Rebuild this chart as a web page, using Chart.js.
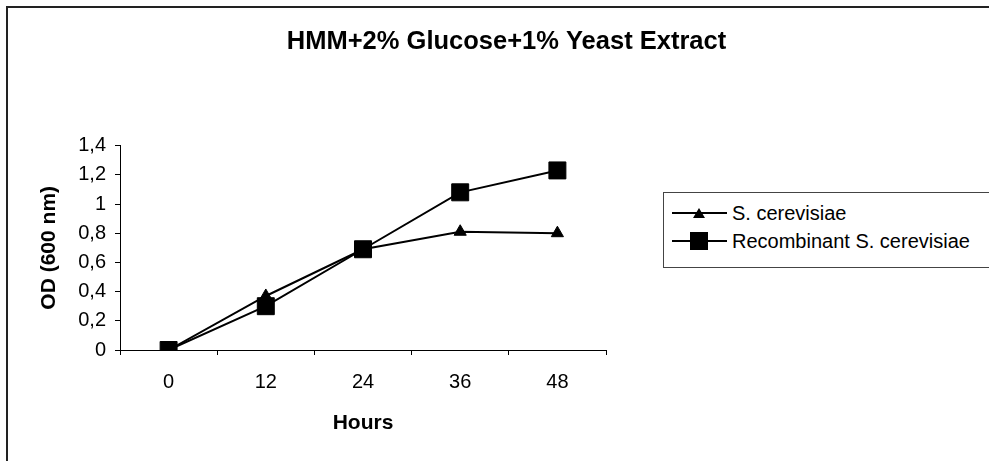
<!DOCTYPE html>
<html>
<head>
<meta charset="utf-8">
<script src="https://cdn.jsdelivr.net/npm/chart.js@4.4.1/dist/chart.umd.min.js"></script>
<style>
  html, body { margin: 0; padding: 0; background: #fff; overflow: hidden; }
  body { width: 989px; height: 461px; position: relative; font-family: 'Liberation Sans', Arial, sans-serif; }
  #frame { position: absolute; left: 6px; top: 6px; width: 1100px; height: 600px; border: 2px solid #222; }
  #wrap { position: absolute; left: 0; top: 0; width: 989px; height: 461px; }
  #legend { position: absolute; left: 663px; top: 192px; width: 360px; height: 74px; border: 1px solid #444; background: #fff; }
  .row { position: absolute; left: 0; height: 28px; line-height: 28px; font-size: 20px; color: #000; white-space: nowrap; }
  .row svg { position: absolute; left: 7px; top: 0; }
  .row span { position: absolute; left: 68px; top: 0; }
</style>
</head>
<body>
<div id="frame"></div>
<div id="wrap"><canvas id="chart" width="989" height="461"></canvas></div>
<div id="legend"></div>
<script>
// Growth curves, OD at 600 nm
const hours = ['0', '12', '24', '36', '48'];
const seriesNames = ['S. cerevisiae', 'Recombinant S. cerevisiae'];
const wildType = [0, 0.37, 0.69, 0.81, 0.80];
const recombinant = [0, 0.30, 0.69, 1.08, 1.23];
const yTicks = { min: 0, max: 1.4, step: 0.2 };

const FONT = "'Liberation Sans', Arial, sans-serif";

const ctx = document.getElementById('chart').getContext('2d');
new Chart(ctx, {
  type: 'line',
  data: {
    labels: hours,
    datasets: [
      {
        label: seriesNames[0],
        data: wildType,
        borderColor: '#000',
        borderWidth: 2,
        pointStyle: 'triangle',
        pointRadius: 7,
        pointBackgroundColor: '#000',
        pointBorderColor: '#000',
        pointBorderWidth: 1,
        tension: 0,
        order: 1
      },
      {
        label: seriesNames[1],
        data: recombinant,
        borderColor: '#000',
        borderWidth: 2,
        pointStyle: 'rect',
        pointRadius: 12,
        pointBackgroundColor: '#000',
        pointBorderColor: '#000',
        pointBorderWidth: 1,
        tension: 0,
        order: 0
      }
    ]
  },
  options: {
    responsive: false,
    animation: false,
    layout: { padding: { left: 24, right: 0, top: 0, bottom: 0 } },
    plugins: {
      legend: { display: false },
      tooltip: { enabled: false },
      title: {
        display: true,
        text: 'HMM+2% Glucose+1% Yeast Extract',
        color: '#000',
        font: { family: FONT, size: 25.5, weight: 'bold', lineHeight: 1.2 },
        padding: { top: 27, bottom: 88 }
      }
    },
    scales: {
      x: {
        type: 'category',
        offset: true,
        grid: { offset: true, drawOnChartArea: false, drawTicks: true, tickLength: 5, color: '#000' },
        border: { display: true, color: '#000', width: 1 },
        ticks: { color: '#000', padding: 15, font: { family: FONT, size: 20, lineHeight: 1.2 } },
        title: {
          display: true,
          text: 'Hours',
          color: '#000',
          font: { family: FONT, size: 21, weight: 'bold', lineHeight: 1.2 },
          padding: { top: 0, bottom: 25 }
        },
        afterFit: s => { s.height = 111; }
      },
      y: {
        min: yTicks.min,
        max: yTicks.max,
        grid: { drawOnChartArea: false, drawTicks: true, tickLength: 5, color: '#000' },
        border: { display: true, color: '#000', width: 1 },
        ticks: {
          stepSize: yTicks.step,
          color: '#000',
          padding: 9,
          font: { family: FONT, size: 20, lineHeight: 1.2 },
          callback: v => String(Math.round(v * 10) / 10).replace('.', ',')
        },
        title: {
          display: true,
          text: 'OD (600 nm)',
          color: '#000',
          font: { family: FONT, size: 21, weight: 'bold', lineHeight: 1.2 },
          padding: { top: 13, bottom: 0 }
        },
        afterFit: s => { s.width = 96; }
      },
      // empty axis on the right keeps room for the legend
      space: {
        position: 'right',
        min: 0,
        max: 1,
        grid: { display: false },
        border: { display: false },
        ticks: { display: false },
        afterFit: s => { s.width = 383; }
      }
    }
  }
});

// legend like the Excel one: line with marker, then the name
const markers = [
  '<polygon points="28,9 34,19 22,19" fill="#000"/>',
  '<rect x="19" y="5" width="18" height="18" fill="#000"/>'
];
const legend = document.getElementById('legend');
seriesNames.forEach((name, i) => {
  const row = document.createElement('div');
  row.className = 'row';
  row.style.top = (6 + i * 28) + 'px';
  row.innerHTML =
    '<svg width="58" height="28"><line x1="1" y1="14" x2="56" y2="14" stroke="#000" stroke-width="2"/>' +
    markers[i] + '</svg><span>' + name + '</span>';
  legend.appendChild(row);
});
</script>
</body>
</html>
